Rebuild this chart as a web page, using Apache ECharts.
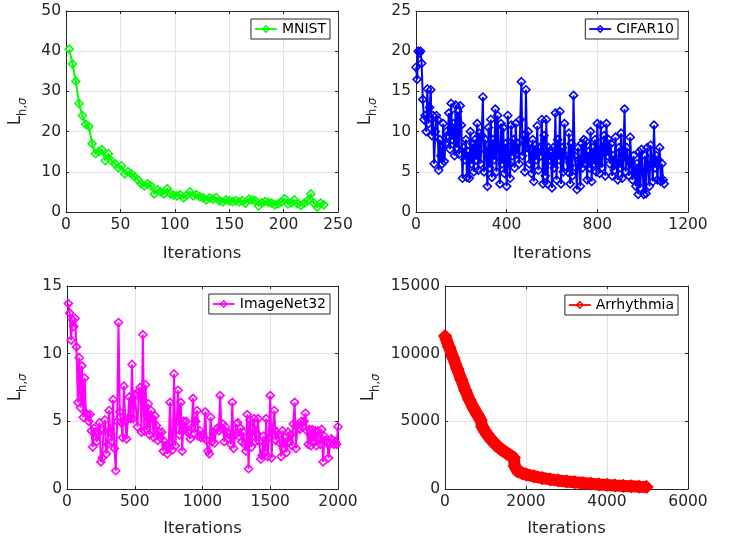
<!DOCTYPE html>
<html>
<head>
<meta charset="utf-8">
<script src="https://cdn.jsdelivr.net/npm/echarts@6/dist/echarts.min.js"></script>
<style>
html,body{margin:0;padding:0;background:#fff;}
#chart{width:732px;height:541px;}
</style>
</head>
<body>
<div id="chart"></div>
<script>
// ---------------- DATA ----------------
const mnistStart = 3, mnistStep = 3;
const mnistLoss = [
  40.5, 36.8, 32.5, 27, 24, 21.8, 21.3, 17, 14.5, 15,
  15.5, 12.8, 14.5, 12.7, 12, 11, 11.5, 9.5, 10, 9.5,
  8.8, 8, 7, 6.5, 7, 6.5, 4.5, 5.5, 5, 4.5,
  5.8, 4.5, 4.2, 4, 4.3, 3.5, 4.2, 5, 4, 4.3,
  3.8, 3.5, 3, 3.5, 3.2, 3.6, 2.8, 2.5, 3, 2.8,
  2.6, 2.8, 2.5, 2.8, 2.2, 3.2, 3, 2.8, 1.5, 2.3,
  2.6, 2.4, 2.2, 1.8, 2, 2.5, 3.3, 2, 2.3, 3,
  2, 1.6, 2.2, 2.8, 4.5, 2.2, 1.2, 2.2, 1.8
];

const cifarStart = 0, cifarStep = 5;
const cifarLoss = [
  18, 16.5, 20, 19.8, 20, 18.5, 14, 11.5, 12, 10, 15.3, 11, 13, 15.2, 9.5, 12, 6, 10, 12, 11.5,
  5.2, 9, 7, 6, 11, 6.3, 8.5, 10, 9.5, 12.3, 7.8, 13.5, 9, 11, 7, 13.3, 8, 12.5, 7.2, 13.2,
  10.8, 4.2, 8, 6.5, 9, 4.3, 7.5, 4.2, 10, 6, 8.5, 5, 9, 6.5, 11, 5.2, 9.8, 6, 9.5, 14.3,
  5, 9, 7.5, 3.2, 10.5, 5.5, 11.5, 4.3, 9, 6.5, 12.8, 5, 12, 8, 3.5, 11, 6, 10.5, 4.8, 8.5,
  3.2, 12, 6, 4.2, 10.8, 7, 9, 5.5, 11, 7.2, 8.5, 6, 11.5, 16.2, 7, 9.5, 5, 15.2, 8, 10,
  6, 7.8, 4.8, 9, 3.8, 8.3, 6.5, 10.7, 5.2, 8, 7, 11.5, 3.5, 9.5, 4.5, 11.5, 3.5, 8, 6.5, 7.5,
  3.0, 8, 5.5, 12.3, 4, 9, 6.5, 12.5, 3.5, 8, 5, 11, 7, 6.5, 5, 9.8, 3.5, 8.5, 4.5, 14.5,
  7, 5.5, 2.8, 8, 6.5, 3.2, 8.5, 5.5, 9, 6, 8.8, 4, 7.5, 5.5, 10, 3.8, 8, 6, 9, 5,
  11, 6, 4.8, 10.8, 5.5, 8, 9.5, 4.5, 11, 7, 9, 6, 8.5, 4.5, 7, 5.2, 9.3, 6, 4, 8,
  5.5, 9.8, 4.2, 7, 12.8, 5, 8, 6.5, 4.5, 9.3, 6, 4, 7, 5, 3.2, 6, 2.2, 7.5, 3, 7.8,
  5, 2.2, 7, 2.3, 8, 5.5, 3.2, 8.3, 6, 3.8, 10.8, 5.5, 7, 4, 6.5, 8, 3.8, 6, 4, 3.5
];

const imagenetStart = 10, imagenetStep = 10;
const imagenetLoss = [
  13.7, 13, 11, 12.5, 12, 12.6, 10.5, 6.4, 9.7, 6,
  9.1, 5.3, 8.2, 5.6, 5.5, 5, 5.5, 4.3, 3.1, 4.5,
  4.2, 3.5, 4.1, 4.9, 2, 2.3, 4.4, 5.1, 2.6, 3.3,
  5.8, 4.2, 3.5, 6.6, 3, 1.35, 5, 12.3, 5.7, 4.9,
  3.8, 7.6, 5, 3.7, 5.2, 6.8, 5.2, 9.2, 5.2, 7,
  6.9, 4.6, 7.2, 7.5, 4.2, 11.4, 4.3, 7.7, 4.4, 6.3,
  4, 5.8, 5.2, 3.8, 5.4, 4.7, 3.6, 4.2, 3.8, 4.2,
  2.8, 3.5, 3.2, 2.6, 3, 6.4, 3.5, 2.9, 8.5, 3.2,
  5, 7.3, 4, 6.4, 2.8, 5, 4.4, 5, 4.2, 4.3,
  3.7, 4.5, 6.7, 4.1, 5, 5.8, 3.9, 4.3, 3.8, 4,
  3.8, 5.7, 3.6, 2.8, 2.6, 5.3, 3.5, 4.2, 3.4, 4.4,
  4.5, 4.3, 6.9, 4.5, 4.8, 3.5, 4.6, 4.2, 3.7, 4.1,
  3.3, 6.4, 3.0, 4, 4.8, 4.9, 3.9, 4.5, 3.5, 4.2,
  3.3, 2.8, 5.5, 1.5, 5.1, 3.1, 4.5, 5.2, 3.5, 4.1,
  5.2, 3.5, 2.2, 2.5, 3.9, 2.7, 5.2, 2.4, 3.8, 6.9,
  2.3, 4.5, 5.8, 3.6, 4.2, 4, 3.4, 2.4, 4.3, 3,
  3.8, 2.7, 4.2, 3.5, 4, 3.2, 4.8, 6.4, 3.0, 4.7,
  4.5, 4.4, 5, 4.6, 5.0, 5.6, 4.3, 3.3, 4.4, 3.2,
  4.4, 3.5, 4.3, 3.2, 4.3, 3.8, 3.3, 4.4, 2.0, 3.9,
  3.6, 3.4, 2.3, 3.3, 3.7, 3.6, 3.3, 3.5, 3.3, 4.6
];

const arrhythmiaIter = [0, 100, 200, 300, 400, 500, 600, 700, 800, 880, 920, 1000, 1100, 1200, 1300, 1400, 1500, 1600, 1700, 1720, 1800, 1900, 2000, 2200, 2400, 2600, 2800, 3000, 3200, 3400, 3600, 3800, 4000, 4200, 4400, 4600, 4800, 4980];
const arrhythmiaLoss = [11300, 10500, 9700, 8900, 8100, 7300, 6600, 6000, 5500, 5100, 4600, 4200, 3800, 3450, 3150, 2900, 2700, 2500, 2300, 1700, 1300, 1180, 1080, 930, 810, 710, 630, 560, 500, 440, 390, 340, 300, 260, 230, 200, 170, 150];

const names = ['MNIST', 'CIFAR10', 'ImageNet32', 'Arrhythmia'];
const colors = ['#00ff00', '#0000ff', '#ff00ff', '#ff0000'];
const xTicks = [[0, 250, 50], [0, 1200, 400], [0, 2000, 500], [0, 6000, 2000]];
const yTicks = [[0, 50, 10], [0, 25, 5], [0, 15, 5], [0, 15000, 5000]];
const xLabel = 'Iterations';

// ---------------- BUILD ----------------
function pairs(start, step, vals) { return vals.map((v, i) => [start + i * step, v]); }
const seriesData = [
  pairs(mnistStart, mnistStep, mnistLoss),
  pairs(cifarStart, cifarStep, cifarLoss),
  pairs(imagenetStart, imagenetStep, imagenetLoss),
  arrhythmiaIter.map((x, i) => [x, arrhythmiaLoss[i]])
];

const FONT = 'DejaVu Sans';
const AX = '#262626';
const grids = [
  { left: 66, top: 11, width: 272, height: 201 },
  { left: 416, top: 11, width: 272, height: 201 },
  { left: 67, top: 286, width: 271, height: 203 },
  { left: 445, top: 286, width: 243, height: 203 }
];
const yNameGap = [37, 37, 38, 63];
const xNameGap = [33, 33, 31, 31];
const legendPos = [
  { right: 402, top: 19 }, { right: 54, top: 19 },
  { right: 402, top: 294 }, { right: 54, top: 295 }
];

const xAxes = [], yAxes = [], series = [], legends = [];
const plainNum = v => String(v);
grids.forEach((g, i) => {
  const [xmin, xmax, xint] = xTicks[i];
  const [ymin, ymax, yint] = yTicks[i];
  const lineCfg = { show: true, onZero: false, lineStyle: { color: AX, width: 1 } };
  xAxes.push({
    type: 'value', gridIndex: i, position: 'bottom', min: xmin, max: xmax, interval: xint,
    axisLine: lineCfg,
    axisTick: { show: true, inside: true, length: 3, lineStyle: { color: AX } },
    axisLabel: { color: AX, fontFamily: FONT, fontSize: 15.5, margin: 5, formatter: plainNum },
    splitLine: { show: true, lineStyle: { color: '#e3e3e3', width: 1 } },
    name: xLabel, nameLocation: 'middle', nameGap: xNameGap[i],
    nameTextStyle: { color: AX, fontFamily: FONT, fontSize: 16.5 }
  });
  xAxes.push({
    type: 'value', gridIndex: i, position: 'top', min: xmin, max: xmax, interval: xint,
    axisLine: lineCfg,
    axisTick: { show: true, inside: true, length: 3, lineStyle: { color: AX } },
    axisLabel: { show: false }, splitLine: { show: false }
  });
  yAxes.push({
    type: 'value', gridIndex: i, position: 'left', min: ymin, max: ymax, interval: yint,
    axisLine: lineCfg,
    axisTick: { show: true, inside: true, length: 3, lineStyle: { color: AX } },
    axisLabel: { color: AX, fontFamily: FONT, fontSize: 15.5, margin: 5, formatter: plainNum },
    splitLine: { show: true, lineStyle: { color: '#e3e3e3', width: 1 } },
    name: '{l|L}{s|h,}{g|σ}', nameLocation: 'middle', nameRotate: 90, nameGap: yNameGap[i],
    nameTextStyle: {
      color: AX, fontFamily: FONT,
      rich: {
        l: { fontSize: 17, fontFamily: FONT, color: AX, verticalAlign: 'bottom', padding: [0, 0, 5, 0] },
        s: { fontSize: 11.5, fontFamily: FONT, color: AX, verticalAlign: 'bottom' },
        g: { fontSize: 11.5, fontFamily: FONT, color: AX, fontStyle: 'italic', verticalAlign: 'bottom' }
      }
    }
  });
  yAxes.push({
    type: 'value', gridIndex: i, position: 'right', min: ymin, max: ymax, interval: yint,
    axisLine: lineCfg,
    axisTick: { show: true, inside: true, length: 3, lineStyle: { color: AX } },
    axisLabel: { show: false }, splitLine: { show: false }
  });
  const isArr = i === 3;
  series.push({
    name: names[i], type: 'line', xAxisIndex: 2 * i, yAxisIndex: 2 * i,
    data: seriesData[i],
    symbol: 'diamond', symbolSize: isArr ? 12 : 8, showSymbol: true,
    lineStyle: { color: colors[i], width: isArr ? 12 : 2 },
    itemStyle: { color: isArr ? colors[i] : 'rgba(255,255,255,0)', borderColor: colors[i], borderWidth: 1.6 },
    animation: false, silent: true
  });
  legends.push(Object.assign({
    data: [names[i]], orient: 'horizontal',
    backgroundColor: '#fff', borderColor: AX, borderWidth: 1,
    padding: [3, 4, 3, 3], itemWidth: 22, itemHeight: 8,
    textStyle: { color: '#000', fontFamily: FONT, fontSize: 14 },
    lineStyle: { width: 1.8 },
    itemStyle: { borderWidth: 1.5, color: 'rgba(255,255,255,0)', borderColor: colors[i] }
  }, legendPos[i]));
});

const chart = echarts.init(document.getElementById('chart'), null, { renderer: 'canvas' });
chart.setOption({
  backgroundColor: '#fff',
  animation: false,
  grid: grids.map(g => Object.assign({ containLabel: false }, g)),
  xAxis: xAxes, yAxis: yAxes, legend: legends, series: series
});
</script>
</body>
</html>
